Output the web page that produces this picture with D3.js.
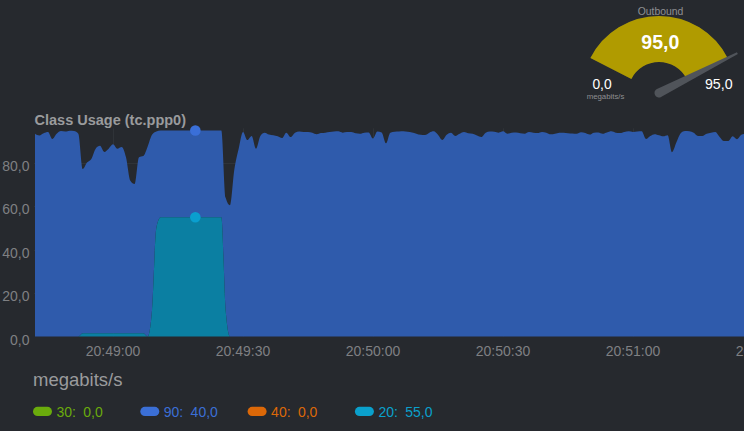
<!DOCTYPE html>
<html>
<head>
<meta charset="utf-8">
<script src="https://cdn.jsdelivr.net/npm/d3@7"></script>
<style>
	body { margin: 0; background: #26292e; }
	svg { display: block; font-family: "Liberation Sans", Arial, sans-serif; }
</style>
</head>
<body>
<div id="vis1"></div>
<script>
const FRAME_WIDTH = 744;
const FRAME_HEIGHT = 431;
const PLOT = {left: 34, right: 744, top: 128.3, bottom: 336.5};

// one sample per second starting here
const START_TIME = "20:48:42";
const X_TICKS = ["20:49:00", "20:49:30", "20:50:00", "20:50:30", "20:51:00", "20:51:30"];
const Y_TICKS = [0, 20, 40, 60, 80];

// class 90 (megabits/s)
const class90 = [
	93.5, 92.7, 93.7, 94.3, 91.1, 93.5, 94.7, 94.5, 94.9, 94.7,
	93.5, 75.7, 78.7, 80.4, 85.1, 86.4, 83.6, 85.1, 87.1, 85.1,
	85.9, 81.2, 70.3, 68.8, 81.2, 81.7, 87.6, 81.0, 44.5, 40.0,
	40.0, 40.0, 40.0, 40.0, 40.0, 40.0, 40.0, 40.0, 40.0, 40.0,
	40.0, 40.0, 40.0, 40.0, 52.0, 60.5, 77.0, 86.6, 94.3, 90.6,
	92.5, 86.6, 92.5, 94.0, 93.1, 92.8, 92.3, 91.5, 94.0, 92.0,
	94.0, 94.5, 94.3, 94.3, 94.0, 93.3, 93.8, 94.0, 94.3, 94.5,
	94.6, 94.0, 94.3, 94.3, 93.7, 93.5, 94.0, 94.1, 91.3, 94.5,
	94.1, 89.1, 94.0, 94.4, 94.5, 94.6, 94.4, 94.1, 93.5, 93.0,
	92.9, 94.0, 94.6, 93.0, 90.6, 93.0, 94.0, 92.5, 93.5, 94.3,
	93.7, 93.5, 92.7, 92.0, 94.0, 94.5, 94.4, 94.0, 94.6, 93.5,
	94.0, 94.1, 93.7, 93.5, 94.3, 94.0, 93.8, 94.3, 94.0, 93.2,
	93.5, 93.9, 94.0, 93.7, 93.6, 93.5, 94.2, 93.8, 93.1, 94.0,
	94.1, 93.5, 94.1, 94.6, 94.0, 93.8, 94.3, 94.6, 94.3, 94.5,
	94.6, 91.1, 92.5, 93.3, 92.8, 92.3, 92.8, 85.0, 89.4, 93.7,
	94.8, 94.6, 94.0, 92.5, 92.5, 93.5, 94.0, 94.3, 92.0, 90.1,
	90.1, 92.3, 91.0, 93.0, 93.5
];

// class 20 (megabits/s)
const class20 = [
	0, 0, 0, 0, 0, 0, 0, 0, 0, 0,
	0, 1.5, 1.5, 1.5, 1.5, 1.5, 1.5, 1.5, 1.5, 1.5,
	1.5, 1.5, 1.5, 1.5, 1.5, 1.5, 0, 12, 50, 55,
	55, 55, 55, 55, 55, 55, 55, 55, 55, 55,
	55, 55, 55, 55, 12, 0, 0, 0, 0, 0,
	0, 0, 0, 0, 0, 0, 0, 0, 0, 0,
	0, 0, 0, 0, 0, 0, 0, 0, 0, 0,
	0, 0, 0, 0, 0, 0, 0, 0, 0, 0,
	0, 0, 0, 0, 0, 0, 0, 0, 0, 0,
	0, 0, 0, 0, 0, 0, 0, 0, 0, 0,
	0, 0, 0, 0, 0, 0, 0, 0, 0, 0,
	0, 0, 0, 0, 0, 0, 0, 0, 0, 0,
	0, 0, 0, 0, 0, 0, 0, 0, 0, 0,
	0, 0, 0, 0, 0, 0, 0, 0, 0, 0,
	0, 0, 0, 0, 0, 0, 0, 0, 0, 0,
	0, 0, 0, 0, 0, 0, 0, 0, 0, 0,
	0, 0, 0, 0, 0
];

// classes 30 and 40 stay at zero during the whole window
const class30Now = 0;
const class40Now = 0;

const HOVER_INDEX = 37;
const GAUGE_MAX = 95;
const LEGEND_CLASSES = ["30", "90", "40", "20"];
const LEGEND_COLORS = ["#6aab0c", "#3b6fd6", "#dc6808", "#0aa0cc"];

const fmt = d3.formatLocale({decimal: ",", thousands: ".", grouping: [3], currency: ["", ""]}).format(".1f");
const parseTime = d3.timeParse("%H:%M:%S");
const t0 = parseTime(START_TIME);

const data = class90.map((v, i) => ({
	time: d3.timeSecond.offset(t0, i),
	c20: class20[i],
	c90: v
}));

const FRAME1 = d3.select("#vis1")
	.append("svg")
		.attr("width", FRAME_WIDTH)
		.attr("height", FRAME_HEIGHT);

// scales: 30 s ticks
const x = d3.scaleTime()
	.domain([parseTime("20:49:00"), parseTime("20:51:00")])
	.range([113, 633]);
const y = d3.scaleLinear()
	.domain([0, 96])
	.range([PLOT.bottom, PLOT.top]);

FRAME1.append("clipPath")
		.attr("id", "plotclip")
	.append("rect")
		.attr("x", PLOT.left)
		.attr("y", 0)
		.attr("width", PLOT.right - PLOT.left)
		.attr("height", PLOT.bottom + 1);

// grid
const grid = FRAME1.append("g").attr("stroke", "#2f3338").attr("stroke-width", 1);
grid.selectAll("line.h")
	.data(Y_TICKS.slice(1))
	.enter()
	.append("line")
		.attr("x1", PLOT.left).attr("x2", PLOT.right)
		.attr("y1", d => Math.round(y(d)) + 0.5)
		.attr("y2", d => Math.round(y(d)) + 0.5);
grid.selectAll("line.v")
	.data(X_TICKS)
	.enter()
	.append("line")
		.attr("x1", d => Math.round(x(parseTime(d))) + 0.5)
		.attr("x2", d => Math.round(x(parseTime(d))) + 0.5)
		.attr("y1", PLOT.top).attr("y2", PLOT.bottom);

// stacked areas: class 20 at the bottom, class 90 on top
const stack = d3.stack().keys(["c20", "c90"]);
const layers = stack(data);
const areaColors = {c20: "#0b7fa2", c90: "#2f5bac"};

const area = d3.area()
	.curve(d3.curveMonotoneX)
	.x(d => x(d.data.time))
	.y0(d => y(d[0]))
	.y1(d => y(d[1]));

FRAME1.append("g")
		.attr("clip-path", "url(#plotclip)")
	.selectAll("path")
	.data(layers.slice().reverse())
	.enter()
	.append("path")
		.attr("d", area)
		.attr("fill", d => areaColors[d.key]);

// hover markers
const hover = data[HOVER_INDEX];
FRAME1.append("circle")
	.attr("cx", x(hover.time))
	.attr("cy", y(hover.c20 + hover.c90))
	.attr("r", 5.3)
	.attr("fill", "#3a6fd8");
FRAME1.append("circle")
	.attr("cx", x(hover.time))
	.attr("cy", y(hover.c20))
	.attr("r", 5.3)
	.attr("fill", "#0a9fcf");

// y axis labels
FRAME1.selectAll("text.ytick")
	.data(Y_TICKS)
	.enter()
	.append("text")
		.attr("x", 29.5)
		.attr("y", d => y(d) + 8)
		.attr("text-anchor", "end")
		.attr("font-size", 14)
		.attr("fill", "#7f8083")
		.text(d => fmt(d));

// x axis labels
FRAME1.selectAll("text.xtick")
	.data(X_TICKS)
	.enter()
	.append("text")
		.attr("x", d => x(parseTime(d)))
		.attr("y", 356)
		.attr("text-anchor", "middle")
		.attr("font-size", 14)
		.attr("fill", "#7f8083")
		.text(d => d);

FRAME1.append("text")
	.attr("x", 34.5)
	.attr("y", 125)
	.attr("font-size", 14.5)
	.attr("font-weight", "bold")
	.attr("fill", "#9a9b9d")
	.text("Class Usage (tc.ppp0)");

FRAME1.append("text")
	.attr("x", 33)
	.attr("y", 386)
	.attr("font-size", 18.5)
	.attr("fill", "#9a9b9d")
	.text("megabits/s");

// legend with values at the hover point
const legendValues = [class30Now, hover.c90, class40Now, hover.c20];
const legend = FRAME1.selectAll("g.legend")
	.data(LEGEND_CLASSES)
	.enter()
	.append("g")
		.attr("transform", (d, i) => "translate(" + (33 + i * 107.3) + ",0)");
legend.append("rect")
	.attr("x", 0).attr("y", 406.8)
	.attr("width", 19).attr("height", 9.2)
	.attr("rx", 4.6)
	.attr("fill", (d, i) => LEGEND_COLORS[i]);
legend.append("text")
	.attr("x", 23.5)
	.attr("y", 416.5)
	.attr("font-size", 14)
	.attr("fill", (d, i) => LEGEND_COLORS[i])
	.text(d => d + ":")
	.append("tspan")
		.attr("x", 50.3)
		.text((d, i) => fmt(legendValues[i]));

// outbound gauge
const outbound = hover.c20 + hover.c90;
const GX = 659, GY = 93;
const angle = d3.scaleLinear().domain([0, GAUGE_MAX]).range([-63, 63]);
const rad = a => a * Math.PI / 180;

const gauge = FRAME1.append("g").attr("transform", "translate(" + GX + "," + GY + ")");
gauge.append("path")
	.attr("d", d3.arc()({innerRadius: 31, outerRadius: 77, startAngle: rad(angle(0)), endAngle: rad(angle(GAUGE_MAX))}))
	.attr("fill", "#3a3d42");
gauge.append("path")
	.attr("d", d3.arc()({innerRadius: 31, outerRadius: 77, startAngle: rad(angle(0)), endAngle: rad(angle(outbound))}))
	.attr("fill", "#b09b00");
gauge.append("path")
	.attr("d", "M-4.5,0 A4.5,4.5 0 0 0 4.5,0 L1,-88 L-1,-88 Z")
	.attr("transform", "rotate(" + angle(outbound) + ")")
	.attr("fill", "#50545a");

FRAME1.append("text")
	.attr("x", 660.5).attr("y", 15)
	.attr("text-anchor", "middle")
	.attr("font-size", 10.4)
	.attr("fill", "#8e8f92")
	.text("Outbound");
FRAME1.append("text")
	.attr("x", 660.3).attr("y", 49.3)
	.attr("text-anchor", "middle")
	.attr("font-size", 19.5)
	.attr("font-weight", "bold")
	.attr("fill", "#ffffff")
	.text(fmt(outbound));
FRAME1.append("text")
	.attr("x", 602).attr("y", 89.3)
	.attr("text-anchor", "middle")
	.attr("font-size", 13.8)
	.attr("fill", "#ffffff")
	.text(fmt(0));
FRAME1.append("text")
	.attr("x", 605.5).attr("y", 98.5)
	.attr("text-anchor", "middle")
	.attr("font-size", 7.8)
	.attr("fill", "#8e8f92")
	.text("megabits/s");
FRAME1.append("text")
	.attr("x", 718.8).attr("y", 89.3)
	.attr("text-anchor", "middle")
	.attr("font-size", 14.2)
	.attr("fill", "#ffffff")
	.text(fmt(GAUGE_MAX));
</script>
</body>
</html>
